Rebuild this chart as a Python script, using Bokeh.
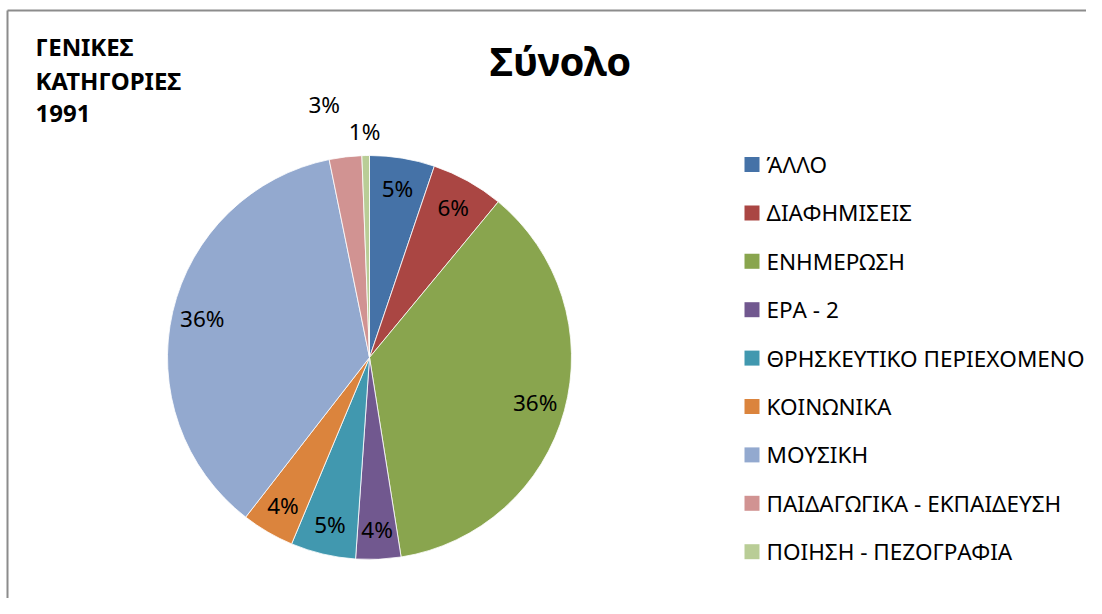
import math
from bokeh.plotting import figure
from bokeh.models import Range1d, ColumnDataSource
from bokeh.core.properties import value
from bokeh.embed import file_html
from bokeh.resources import INLINE

# ---------------- data ----------------
categories = ["ΆΛΛΟ", "ΔΙΑΦΗΜΙΣΕΙΣ", "ΕΝΗΜΕΡΩΣΗ", "ΕΡΑ - 2",
              "ΘΡΗΣΚΕΥΤΙΚΟ ΠΕΡΙΕΧΟΜΕΝΟ", "ΚΟΙΝΩΝΙΚΑ", "ΜΟΥΣΙΚΗ",
              "ΠΑΙΔΑΓΩΓΙΚΑ - ΕΚΠΑΙΔΕΥΣΗ", "ΠΟΙΗΣΗ - ΠΕΖΟΓΡΑΦΙΑ"]
shares = [5.2, 5.8, 36.5, 3.6, 5.2, 4.2, 36.3, 2.6, 0.6]
colors = ["#4572A7", "#AA4643", "#89A54E", "#71588F", "#4198AF",
          "#DB843D", "#93A9CF", "#D19392", "#B9CD96"]
title_text = "Σύνολο"
corner_lines = ["ΓΕΝΙΚΕΣ", "ΚΑΤΗΓΟΡΙΕΣ", "1991"]

# ---------------- layout ----------------
W, H = 1086, 598
PAGE_H = 614
def Y(img_y):
    return PAGE_H - img_y

FONT = "Noto Sans"
p = figure(width=W, height=H, output_backend="svg", toolbar_location=None,
           x_range=Range1d(0, W), y_range=Range1d(PAGE_H - H, PAGE_H),
           min_border=0)
p.axis.visible = False
p.grid.visible = False
p.outline_line_color = None
p.background_fill_color = "white"
p.border_fill_color = "white"

# chart frame
p.line([7, 7], [Y(10), Y(620)], line_color="#8c8c8c", line_width=2)
p.line([7, 1100], [Y(10), Y(10)], line_color="#8c8c8c", line_width=2)

# pie
cx, cy, R = 369, Y(357), 202
total = sum(shares)
starts, ends, mids = [], [], []
acc = 0.0
for s in shares:
    a0 = math.pi / 2 - 2 * math.pi * acc / total
    acc += s
    a1 = math.pi / 2 - 2 * math.pi * acc / total
    starts.append(a0); ends.append(a1); mids.append((a0 + a1) / 2)

src = ColumnDataSource(dict(start=starts, end=ends, color=colors))
p.wedge(x=cx, y=cy, radius=R, radius_units="screen", start_angle="start",
        end_angle="end", direction="clock", fill_color="color",
        line_color="white", line_width=0.8, source=src)

# data labels
lx, ly, lt = [], [], []
outside = []
for s, m in zip(shares, mids):
    txt = f"{round(s / total * 100)}%"
    if s / total * 100 >= 3:
        lx.append(cx + 0.85 * R * math.cos(m)); ly.append(cy + 0.85 * R * math.sin(m)); lt.append(txt)
    else:
        outside.append((m, txt))
# small slices placed outside, staggered
out_r = [1.27, 1.12]
out_shift = [0.058, 0.003]
for (m, txt), rf, sh in zip(outside, out_r, out_shift):
    ang = m + sh
    lx.append(cx + rf * R * math.cos(ang)); ly.append(cy + rf * R * math.sin(ang)); lt.append(txt)
p.text(x=lx, y=ly, text=lt, text_font=value(FONT), text_font_size="22.5px",
       text_align="center", text_baseline="middle", text_color="black")

# title
p.text(x=[560], y=[Y(60)], text=[title_text], text_font=value(FONT),
       text_font_size="40px", text_font_style="bold", text_align="center",
       text_baseline="middle", text_color="black")

# corner text
p.text(x=[35] * 3, y=[Y(46 + 33.5 * i) for i in range(3)], text=corner_lines,
       text_font=value(FONT), text_font_size="24px", text_font_style="bold",
       text_align="left", text_baseline="middle", text_color="black")

# legend
leg_y = [Y(164 + 48.4 * i) for i in range(len(categories))]
p.rect(x=[751.5] * len(categories), y=leg_y, width=15, height=15,
       width_units="screen", height_units="screen", fill_color=colors, line_color=None)
p.text(x=[766] * len(categories), y=leg_y, text=categories, text_font=value(FONT),
       text_font_size="22.5px", text_align="left", text_baseline="middle",
       text_color="black")

open("out.html", "w").write(file_html(p, INLINE))
